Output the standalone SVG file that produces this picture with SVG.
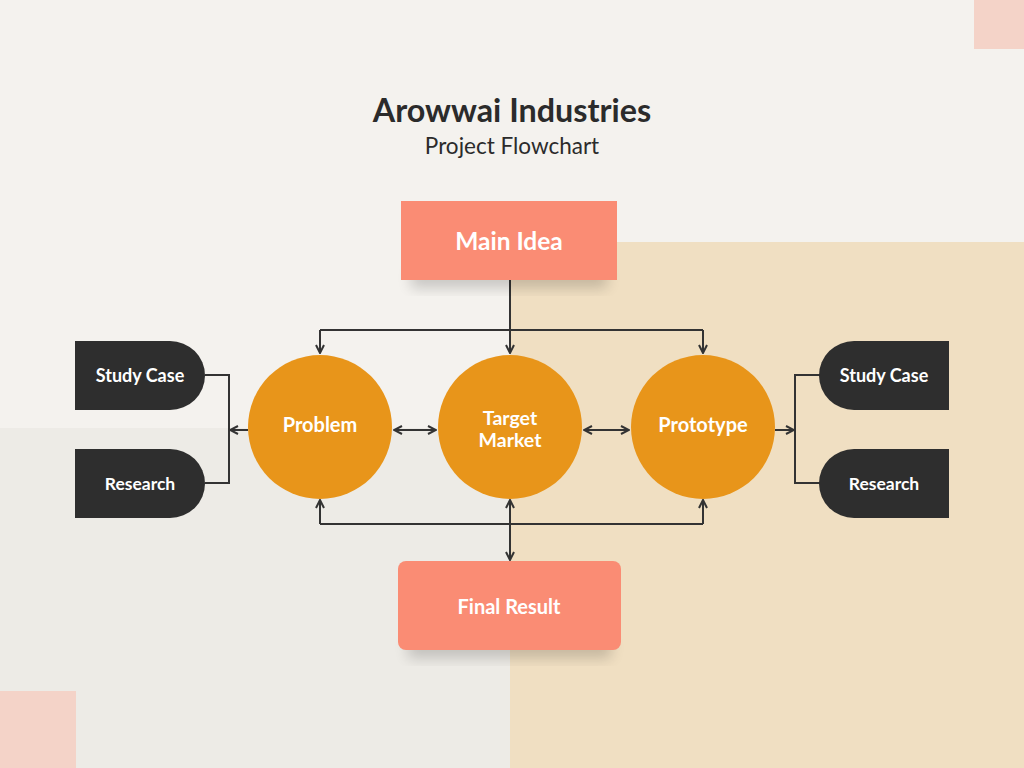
<svg xmlns="http://www.w3.org/2000/svg" width="1024" height="768" viewBox="0 0 1024 768">
<style>
.title{font-family:Lato,"Liberation Sans",sans-serif;font-weight:700;fill:#2b2b2b}
.sub{font-family:Lato,"Liberation Sans",sans-serif;fill:#2b2b2b}
.lbl{font-family:Lato,"Liberation Sans",sans-serif;font-weight:700;fill:#fff;text-anchor:middle;dominant-baseline:central}
.coral{fill:#FA8C74}
.circ{fill:#E8951A}
.dark{fill:#2E2E2E}
.ln{fill:none;stroke:#333;stroke-width:2}
</style>
<defs>
<marker id="ah" viewBox="0 0 10 10" refX="9" refY="5" markerWidth="10" markerHeight="10" markerUnits="userSpaceOnUse" orient="auto-start-reverse">
<path d="M1,1 L9,5 L1,9" fill="none" stroke="#333" stroke-width="2"/>
</marker>
<filter id="sh" x="-20%" y="-20%" width="140%" height="160%">
<feGaussianBlur stdDeviation="7"/>
</filter>
</defs>
<rect width="1024" height="768" fill="#F4F2EE"/>
<rect x="0" y="428" width="510" height="340" fill="#EDEBE6"/>
<rect x="510" y="242" width="514" height="526" fill="#F0DFC2"/>
<rect x="974" y="0" width="50" height="49" fill="#F4D3C8"/>
<rect x="0" y="691" width="76" height="77" fill="#F4D3C8"/>
<text class="title" x="512" y="122" font-size="32.3" text-anchor="middle">Arowwai Industries</text>
<text class="sub" x="512" y="154" font-size="22.5" text-anchor="middle">Project Flowchart</text>
<g id="connectors">
<path class="ln" d="M510,280 V330"/>
<path class="ln" d="M320,330 H703"/>
<path class="ln" d="M320,330 V353" marker-end="url(#ah)"/>
<path class="ln" d="M510,330 V353" marker-end="url(#ah)"/>
<path class="ln" d="M703,330 V353" marker-end="url(#ah)"/>
<path class="ln" d="M394,430 H436" marker-start="url(#ah)" marker-end="url(#ah)"/>
<path class="ln" d="M584,430 H629" marker-start="url(#ah)" marker-end="url(#ah)"/>
<path class="ln" d="M320,524 H703"/>
<path class="ln" d="M320,524 V500" marker-end="url(#ah)"/>
<path class="ln" d="M703,524 V500" marker-end="url(#ah)"/>
<path class="ln" d="M510,500 V560" marker-start="url(#ah)" marker-end="url(#ah)"/>
<path class="ln" d="M205,375 H229 V483 H205"/>
<path class="ln" d="M248,430 H230" marker-end="url(#ah)"/>
<path class="ln" d="M820,375 H795 V483 H820"/>
<path class="ln" d="M775,430 H794" marker-end="url(#ah)"/>
</g>
<g id="main-idea">
<rect x="411" y="268" width="196" height="20" fill="#000" opacity="0.18" filter="url(#sh)"/>
<rect class="coral" x="401" y="201" width="216" height="79"/>
<text class="lbl" x="509" y="240" font-size="24.5">Main Idea</text>
</g>
<g id="final-result">
<rect x="408" y="638" width="203" height="20" fill="#000" opacity="0.18" filter="url(#sh)"/>
<rect class="coral" x="398" y="561" width="223" height="89" rx="8"/>
<text class="lbl" x="509" y="606" font-size="20">Final Result</text>
</g>
<g id="problem">
<circle class="circ" cx="320" cy="427" r="72"/>
<text class="lbl" x="320" y="424" font-size="20">Problem</text>
</g>
<g id="target-market">
<circle class="circ" cx="510" cy="427" r="72"/>
<text class="lbl" x="510" font-size="19.5"><tspan x="510" y="417">Target</tspan><tspan x="510" y="439">Market</tspan></text>
</g>
<g id="prototype">
<circle class="circ" cx="703" cy="427" r="72"/>
<text class="lbl" x="703" y="424" font-size="20">Prototype</text>
</g>
<g id="study-case-left">
<path class="dark" d="M75,341 H170 A35,34.5 0 0 1 170,410 H75 Z"/>
<text class="lbl" x="140" y="375" font-size="18">Study Case</text>
</g>
<g id="research-left">
<path class="dark" d="M75,449 H170 A35,34.5 0 0 1 170,518 H75 Z"/>
<text class="lbl" x="140" y="483" font-size="17.5">Research</text>
</g>
<g id="study-case-right">
<path class="dark" d="M949,341 H854 A35,34.5 0 0 0 854,410 H949 Z"/>
<text class="lbl" x="884" y="375" font-size="18">Study Case</text>
</g>
<g id="research-right">
<path class="dark" d="M949,449 H854 A35,34.5 0 0 0 854,518 H949 Z"/>
<text class="lbl" x="884" y="483" font-size="17.5">Research</text>
</g>
</svg>
